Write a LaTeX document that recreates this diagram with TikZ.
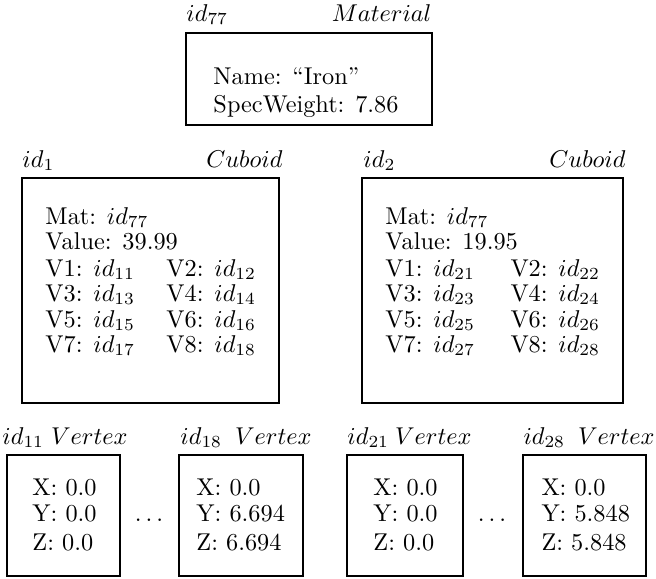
\documentclass[tikz,border=0pt]{standalone}
\usetikzlibrary{fit}
\begin{document}
\begin{tikzpicture}[x=0.4115pt,y=-0.4115pt,
  record/.style={draw, line width=0.6pt, inner sep=0pt},
  field/.style={anchor=base west, inner sep=0pt},
  idlabel/.style={anchor=base west, inner sep=0pt},
  typelabel/.style={anchor=base east, inner sep=0pt},
  gap/.style={anchor=base, inner sep=0pt}]
\useasboundingbox (0,0) rectangle (656,578);

% Material object
\node[record, fit={(186,33) (432,125)}] (mat) {};
\node[idlabel] (matid) at (186,21) {$id_{77}$};
\node[typelabel] (mattype) at (432,21) {$Material$};
\node[field] (matname) at (213,84) {Name: ``Iron''};
\node[field] (matweight) at (213,112) {SpecWeight: 7.86};

% First cuboid
\node[record, fit={(22,178) (279,403)}] (cubA) {};
\node[idlabel] (cubAid) at (22,167) {$id_1$};
\node[typelabel] (cubAtype) at (283,167) {$Cuboid$};
\node[field] (cubAmat) at (45,224) {Mat: $id_{77}$};
\node[field] (cubAval) at (45,249) {Value: 39.99};
\node[field] (cubAv1) at (45,276) {V1: $id_{11}$};
\node[field] (cubAv2) at (166,276) {V2: $id_{12}$};
\node[field] (cubAv3) at (45,301) {V3: $id_{13}$};
\node[field] (cubAv4) at (166,301) {V4: $id_{14}$};
\node[field] (cubAv5) at (45,327) {V5: $id_{15}$};
\node[field] (cubAv6) at (166,327) {V6: $id_{16}$};
\node[field] (cubAv7) at (45,352) {V7: $id_{17}$};
\node[field] (cubAv8) at (166,352) {V8: $id_{18}$};

% Second cuboid
\node[record, fit={(362,178) (623,403)}] (cubB) {};
\node[idlabel] (cubBid) at (363,167) {$id_2$};
\node[typelabel] (cubBtype) at (626,167) {$Cuboid$};
\node[field] (cubBmat) at (385,224) {Mat: $id_{77}$};
\node[field] (cubBval) at (385,249) {Value: 19.95};
\node[field] (cubBv1) at (385,276) {V1: $id_{21}$};
\node[field] (cubBv2) at (510,276) {V2: $id_{22}$};
\node[field] (cubBv3) at (385,301) {V3: $id_{23}$};
\node[field] (cubBv4) at (510,301) {V4: $id_{24}$};
\node[field] (cubBv5) at (385,327) {V5: $id_{25}$};
\node[field] (cubBv6) at (510,327) {V6: $id_{26}$};
\node[field] (cubBv7) at (385,352) {V7: $id_{27}$};
\node[field] (cubBv8) at (510,352) {V8: $id_{28}$};

% Vertices
\node[record, fit={(7,455) (120,576)}] (vA1) {};
\node[idlabel] at (2,444) (vA1id) {$id_{11}$};
\node[typelabel] at (128,444) (vA1type) {$Vertex$};
\node[field] (vA1x) at (32,495) {X: 0.0};
\node[field] (vA1y) at (32,521) {Y: 0.0};
\node[field] (vA1z) at (32,550) {Z: 0.0};

\node[gap] (dotsA) at (149,521) {$\ldots$};

\node[record, fit={(179,455) (303,576)}] (vA8) {};
\node[idlabel] at (180,444) (vA8id) {$id_{18}$};
\node[typelabel] at (312,444) (vA8type) {$Vertex$};
\node[field] (vA8x) at (196,495) {X: 0.0};
\node[field] (vA8y) at (196,521) {Y: 6.694};
\node[field] (vA8z) at (196,550) {Z: 6.694};

\node[record, fit={(347,455) (463,576)}] (vB1) {};
\node[idlabel] at (347,444) (vB1id) {$id_{21}$};
\node[typelabel] at (472,444) (vB1type) {$Vertex$};
\node[field] (vB1x) at (373,495) {X: 0.0};
\node[field] (vB1y) at (373,521) {Y: 0.0};
\node[field] (vB1z) at (373,550) {Z: 0.0};

\node[gap] (dotsB) at (492,521) {$\ldots$};

\node[record, fit={(523,455) (646,576)}] (vB8) {};
\node[idlabel] at (523,444) (vB8id) {$id_{28}$};
\node[typelabel] at (655,444) (vB8type) {$Vertex$};
\node[field] (vB8x) at (541,495) {X: 0.0};
\node[field] (vB8y) at (541,521) {Y: 5.848};
\node[field] (vB8z) at (541,550) {Z: 5.848};
\end{tikzpicture}
\end{document}
